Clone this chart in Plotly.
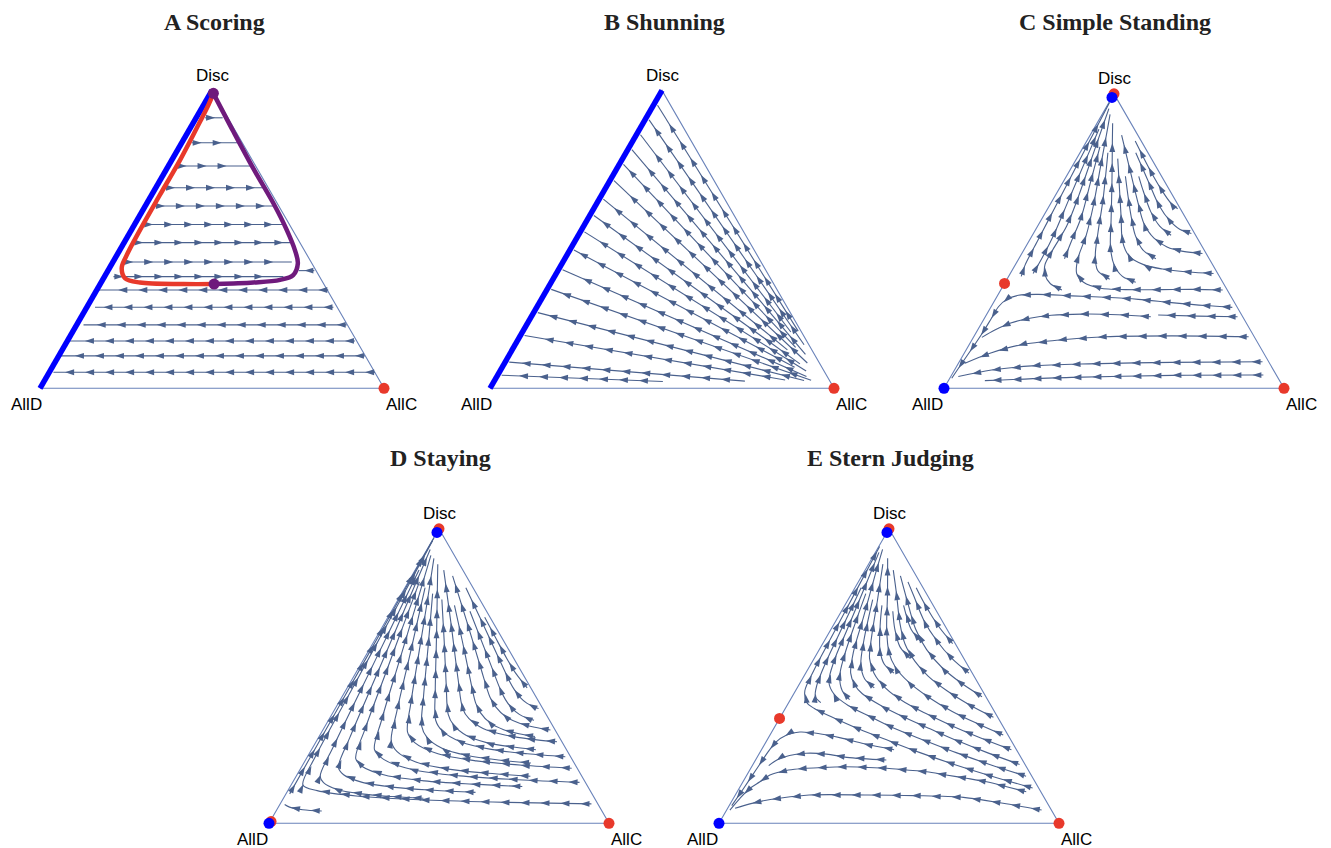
import numpy as np
import plotly.graph_objects as go

# ====================== DATA ======================
# All shares in percent. Vertices: AllD (bottom-left), AllC (bottom-right), Disc (top).

# ---- Panel A, Scoring: neutral trajectories at constant Disc share ----
a_row_disc = [90.8, 82.4, 74.6, 67.3, 61.2, 55.0, 48.9, 42.4, 37.5, 39.5,
              33.0, 27.2, 21.3, 15.9, 10.9, 5.4]
a_row_allc_from = [2.6, 2.9, 2.4, 2.7, 2.8, 2.5, 2.7, 3.0, 2.6, 60.0,
                   67.3, 71.7, 78.5, 83.6, 89.0, 94.7]
a_row_allc_to = [7.7, 16.5, 24.2, 31.3, 37.2, 43.2, 48.3, 52.0, 52.0, 55.5,
                 0.5, 2.4, 2.0, 0.3, 0.4, 1.2]
# highlighted orbit (two branches)
a_red_allc = [33.1, 24.2, 11.3, 6.3, 3.6, 2.9, 2.5, 2.4, 2.4, 1.9, 1.4, 0.9]
a_red_disc = [35.0, 35.0, 35.5, 36.9, 40.3, 44.2, 53.1, 64.9, 76.6, 87.2, 95.1, 99.0]
a_purple_allc = [0.9, 13.2, 25.1, 36.8, 45.2, 50.9, 54.0, 54.6, 51.6, 44.3, 38.6, 33.1]
a_purple_disc = [99.0, 86.1, 73.8, 62.1, 53.1, 46.4, 41.9, 38.0, 36.4, 35.5, 35.2, 35.0]

# ---- Panel B, Shunning: straight trajectories (start -> end) ----
b_start_allc = [80, 84, 78, 86, 82, 88, 80, 86, 89, 85, 90, 92, 90, 84.4, 72.9, 49.1]
b_start_disc = [19.2, 14.6, 18.9, 11.4, 13.7, 8.5, 12.9, 8.2, 5.8, 7.1, 4.0, 2.7, 2.6, 2.8, 2.4, 2.3]
b_end_allc = [1.2, 1.2, 1.2, 1.2, 1.2, 1.2, 1.2, 1.2, 1.2, 1.2, 1.2, 1.2, 1.2, 1.2, 1.2, 1.2]
b_end_disc = [95.0, 90.1, 85.1, 80.1, 75.2, 69.7, 63.5, 58.0, 52.5, 46.4, 39.8, 33.2,
              25.4, 17.7, 8.8, 4.4]

# ---- Panels C-E: trajectories as (Disc %, AllC share among AllC+AllD %) ----
c_paths = [
    [(4.5, 96), (4.4, 68), (3.7, 37), (2.6, 11)],
    [(9.0, 98), (8.8, 68.5), (8.3, 41.8), (7.6, 23.8), (6.2, 11.6), (4.0, 2.3)],
    [(17.5, 98), (17.8, 70.6), (17.5, 46.8), (16.4, 30.9), (14.7, 17.6), (11.9, 8.6), (8.5, 2.1)],
    [(24.3, 64.3), (25.0, 51.6), (25.2, 37.2), (24.8, 25.5), (23.8, 17.5), (22.1, 10.7),
     (19.8, 6.3), (17.3, 3.0)],
    [(24.3, 98), (24.5, 82.7), (24.9, 67.3)],
    [(27.5, 98), (28.1, 87.2), (29.1, 73.8), (30.2, 60.2), (30.9, 46.0), (31.4, 31.9),
     (31.9, 17.3), (31.6, 8.9), (30.2, 4.8), (27.7, 3.0), (23.8, 2.7), (19.2, 2.4),
     (14.1, 1.8), (8.5, 1.1), (3.4, 0.6)],
    [(38, 6), (42, 5), (50, 5), (62, 5), (75, 5), (88, 5), (97, 5)],
    [(39, 11), (44, 12), (52, 13), (64, 13), (78, 13), (88, 13)],
    [(33.4, 27), (35.5, 21), (38.5, 17), (42, 15), (47, 16), (55, 19), (65, 20), (78, 20),
     (90, 20), (95, 20)],
    [(44, 24), (50, 25), (58, 27), (70, 27), (82, 27)],
    [(33.4, 98), (33.6, 85), (33.5, 70), (33.5, 55), (34, 44), (36, 36), (39, 32), (44, 31),
     (52, 33), (62, 34), (75, 34), (88, 34), (93, 33.5)],
    [(37, 48), (40, 42), (45, 40), (53, 40), (64, 41), (80, 41)],
    [(36, 60), (38, 54), (42, 50), (48, 48), (57, 48), (70, 48), (84, 47), (90, 46)],
    [(39, 98), (39.5, 86), (40.5, 74), (42, 65), (45, 58), (50, 55), (58, 55), (70, 55), (78, 55)],
    [(44, 72), (47, 66), (52, 63), (60, 62), (72, 62)],
    [(45.8, 98), (46.5, 88), (48, 80), (51, 74), (56, 70), (64, 69), (76, 68), (86, 66)],
    [(52, 85), (55, 80), (60, 77), (68, 76), (72, 76)],
    [(52.6, 98), (54, 92), (57, 88), (62, 85), (70, 84), (80, 82)],
    [(61, 98), (63, 95), (67, 93), (74, 91), (84, 89)],
]

d_paths = [
    [(6.6, 98), (7.1, 71.4), (7.9, 45.8), (9.2, 23.9), (11.1, 9.7), (13, 4.0), (23, 3), (45, 3),
     (70, 3), (96, 3)],
    [(8.5, 45), (9.1, 34.6), (10, 24.7), (11.5, 16.1), (13.8, 10.6), (16, 8.4), (26, 8), (45, 8),
     (65, 8), (86, 8)],
    [(10.5, 62), (11.2, 48.3), (12.2, 35.1), (13.9, 23.8), (16.5, 16.4), (19, 13.5), (29, 13),
     (50, 13), (72, 13), (93, 13)],
    [(12.5, 78), (13.3, 61.2), (14.4, 45), (16.3, 31.2), (19.2, 22.2), (22, 18.6), (32, 18),
     (52, 18), (68, 18), (82, 18)],
    [(13.9, 98), (14.8, 77.3), (16.1, 57.3), (18.3, 40.3), (21.7, 29.2), (25, 24.7), (35, 24),
     (55, 24), (75, 24), (91, 23.5)],
    [(16, 82), (17, 67.4), (18.4, 53.4), (20.8, 41.4), (24.4, 33.6), (28, 30.5), (38, 30),
     (58, 30), (80, 29.5)],
    [(18.7, 98), (19.7, 80.6), (21.2, 63.9), (23.6, 49.6), (27.3, 40.3), (31, 36.6), (41, 36),
     (61, 36), (76, 36), (90, 35)],
    [(20.5, 84), (21.5, 72.2), (23, 60.9), (25.5, 51.2), (29.3, 44.9), (33, 42.4), (43, 42),
     (60, 42), (78, 41.5)],
    [(22.6, 98), (23.6, 84), (25.1, 70.5), (27.6, 59), (31.3, 51.5), (35, 48.5), (45, 48),
     (65, 48), (88, 47)],
    [(25, 88), (26, 78.5), (27.4, 69.3), (29.8, 61.5), (33.4, 56.4), (37, 54.3), (47, 54),
     (62, 54), (76, 53.5)],
    [(27.7, 98), (28.6, 87.6), (30, 77.7), (32.2, 69.1), (35.6, 63.6), (39, 61.4), (49, 61),
     (68, 61), (86, 60)],
    [(29.5, 90), (30.4, 83.8), (31.8, 77.9), (34.1, 72.8), (37.6, 69.5), (41, 68.2), (51, 68),
     (62, 68), (74, 67.5)],
    [(31.7, 98), (32.6, 91.8), (34, 85.9), (36.2, 80.8), (39.6, 77.5), (43, 76.2), (53, 76),
     (68, 76), (84, 75)],
    [(35, 93), (35.8, 90.2), (37, 87.5), (39, 85.2), (42, 83.7), (45, 83.1), (55, 83), (72, 82.5)],
    [(39, 98), (39.7, 95.8), (40.8, 93.6), (42.6, 91.8), (45.3, 90.6), (48, 90.1), (58, 90),
     (68, 90), (80, 89.5)],
    [(46, 98), (48, 97.2), (51, 96), (56, 95.3), (63, 95), (70, 94.8)],
    [(10, 1.2), (25, 1.2), (45, 1.2), (65, 1.2), (85, 1.2), (97, 1.2)],
    [(4.2, 14), (4.6, 8), (5.5, 3.5), (6.4, 1.5)],
]

e_paths = [
    [(4.5, 97), (6.8, 86), (8.8, 74), (9.4, 58), (9.6, 43), (9.6, 24), (8.1, 12), (6.6, 6.2),
     (5.1, 2.3)],
    [(10.7, 95.2), (12.4, 89.5), (14.1, 83.4), (15.3, 76.9), (16.4, 70.1), (17.5, 63.4),
     (18.1, 56.3), (18.7, 49.2), (19.0, 41.8), (19.2, 34.5), (19.0, 27.2), (18.7, 20.2),
     (18.1, 13.9), (16.4, 8.1), (14.1, 5.8), (11.9, 3.6), (8.5, 2.1), (4.5, 1.0)],
    [(21.5, 49), (22.4, 34), (23.5, 26), (23.8, 18), (23, 12), (21.5, 8), (19.6, 6)],
    [(25, 52), (27, 40), (29, 30), (30.5, 20), (31, 12), (30, 7), (27.5, 4), (24, 3), (18, 2.2),
     (12, 1.5), (6, 0.8)],
    [(12, 98), (16, 86), (20, 74), (24, 62), (28, 50), (32, 37), (36, 24), (39, 14), (41, 9),
     (45, 5), (52, 4), (64, 4), (78, 4), (94, 4)],
    [(16, 98), (20, 87), (24, 76), (28, 65), (32, 53), (36, 42), (40, 30), (44, 21), (48, 16),
     (55, 14), (66, 14), (80, 14), (92, 13)],
    [(20, 98), (24, 88), (28, 78), (32, 68), (36, 57), (40, 46), (44, 36), (47, 31), (51, 27),
     (58, 25), (70, 25), (84, 24), (93, 23)],
    [(25, 98), (29, 88), (33, 78), (37, 68), (41, 58), (46, 48), (51, 41), (56, 37), (64, 36),
     (76, 36), (88, 35)],
    [(30, 98), (34, 89), (38, 80), (43, 70), (48, 61), (53, 54), (58, 50), (66, 48), (78, 48),
     (90, 46)],
    [(36, 98), (40, 90), (45, 81), (50, 73), (55, 67), (61, 62), (68, 60), (78, 60), (86, 59)],
    [(43, 98), (48, 90), (53, 83), (59, 77), (66, 73), (74, 72), (84, 71)],
    [(51, 98), (56, 92), (62, 87), (69, 83), (77, 82), (82, 81)],
    [(61, 98), (67, 94), (75, 91), (80, 90)],
    [(41, 16), (43, 12), (47, 10), (55, 9), (68, 9), (80, 9)],
    [(42, 30), (45, 25), (50, 21), (57, 19.5), (68, 19), (78, 19)],
    [(46, 42), (49, 36), (54, 32), (62, 30.5), (76, 30)],
    [(51, 53), (54, 47), (59, 43.5), (68, 42), (74, 42)],
    [(56, 64), (60, 58), (66, 55), (72, 54)],
    [(62, 74), (66, 69), (74, 66.5)],
]

# ---- fixed points: panel, AllC %, Disc %, stability ----
fp_panel = ["A", "A", "A", "B",
            "C", "C", "C", "C", "C",
            "D", "D", "D", "D", "D",
            "E", "E", "E", "E", "E"]
fp_allc = [0.9, 33.1, 100, 100,
           0, 0, 0, 0, 100,
           0, 0, 0.3, 0, 100,
           0, 0, 0, 0, 100]
fp_disc = [99.0, 35.0, 0, 0,
           100, 98.8, 35.6, 0, 0,
           100, 98.8, 0.6, 0, 0,
           100, 98.8, 35.6, 0, 0]
fp_kind = ["neutral", "neutral", "unstable", "unstable",
           "unstable", "stable", "unstable", "stable", "unstable",
           "unstable", "stable", "unstable", "stable", "unstable",
           "unstable", "stable", "unstable", "stable", "unstable"]

titles = ["A Scoring", "B Shunning", "C Simple Standing", "D Staying", "E Stern Judging"]
vertex_names = ["AllD", "AllC", "Disc"]

# ====================== STYLE / LAYOUT ======================
W, H = 1331, 848
SQ = np.sqrt(3) / 2
STREAM = "#4a618d"
EDGE = "#6a83ba"
KIND_COLOR = {"unstable": "#e8392b", "stable": "#0000ff", "neutral": "#6f1a7c"}
LINE_BLUE = "#0000ff"

# panel key, AllD vertex (px), side (px), subplot box (px), title centre (px), label dx, first arrow
PANELS = [
    ("A", 40.0, 388.3, 344.0, (0, 40, 445, 432), (214, 22), -14, 10),
    ("B", 490.0, 388.3, 344.0, (445, 40, 895, 432), (664, 22), -14, 24),
    ("C", 944.0, 388.3, 340.0, (895, 40, 1331, 432), (1115, 22), -17, 11),
    ("D", 269.0, 823.3, 340.0, (215, 475, 665, 848), (440, 458), -17, 11),
    ("E", 719.0, 823.3, 340.0, (665, 475, 1120, 848), (890, 458), -17, 11),
]


def to_xy(allc, disc):
    a = np.asarray(allc, float) / 100.0
    d = np.asarray(disc, float) / 100.0
    return a + d / 2.0, d * SQ


def ratio_path_xy(path):
    h = np.array([p[0] for p in path], float) / 100.0
    r = np.array([p[1] for p in path], float) / 100.0
    allc = r * (1.0 - h)
    return allc + h / 2.0, h * SQ


def arrows_on(x, y, side, first=11.0, spacing=20.0, tail=5.0):
    px = np.asarray(x, float) * side
    py = np.asarray(y, float) * side
    dx, dy = np.diff(px), np.diff(py)
    seg = np.hypot(dx, dy)
    cum = np.concatenate([[0.0], np.cumsum(seg)])
    total = cum[-1]
    out = []
    positions = list(np.arange(first, total - tail, spacing))
    if not positions and total > 6:
        positions = [total * 0.6]
    for s in positions:
        i = int(np.searchsorted(cum, s, side="right") - 1)
        i = max(0, min(i, len(seg) - 1))
        while seg[i] == 0 and i < len(seg) - 1:
            i += 1
        t = (s - cum[i]) / seg[i] if seg[i] > 0 else 0
        out.append(((px[i] + t * dx[i]) / side, (py[i] + t * dy[i]) / side,
                    float(np.degrees(np.arctan2(dx[i], dy[i])))))
    return out


fig = go.Figure()
layout_axes = {}
annotations = []

panel_paths = {"A": [], "B": [], "C": [], "D": [], "E": []}
for d, a0, a1 in zip(a_row_disc, a_row_allc_from, a_row_allc_to):
    panel_paths["A"].append((to_xy([a0, a1], [d, d]), "linear"))
for sa, sd, ea, ed in zip(b_start_allc, b_start_disc, b_end_allc, b_end_disc):
    panel_paths["B"].append((to_xy([sa, ea], [sd, ed]), "linear"))
for key, paths in (("C", c_paths), ("D", d_paths), ("E", e_paths)):
    for p in paths:
        panel_paths[key].append((ratio_path_xy(p), "spline"))

for k, (key, X0, Y0, S, box, tpos, ldx, first) in enumerate(PANELS, start=1):
    bx0, by0, bx1, by1 = box
    xa = "xaxis" if k == 1 else f"xaxis{k}"
    ya = "yaxis" if k == 1 else f"yaxis{k}"
    xr = "x" if k == 1 else f"x{k}"
    yr = "y" if k == 1 else f"y{k}"
    layout_axes[xa] = dict(domain=[bx0 / W, bx1 / W], range=[(bx0 - X0) / S, (bx1 - X0) / S],
                           visible=False, fixedrange=True, anchor=yr)
    layout_axes[ya] = dict(domain=[1 - by1 / H, 1 - by0 / H], range=[(Y0 - by1) / S, (Y0 - by0) / S],
                           visible=False, fixedrange=True, anchor=xr)

    tx, ty = to_xy([0, 100, 0, 0], [0, 0, 100, 0])
    fig.add_trace(go.Scatter(x=tx, y=ty, mode="lines", xaxis=xr, yaxis=yr,
                             line=dict(color=EDGE, width=1.1), hoverinfo="skip"))

    for shape in ("linear", "spline"):
        xs, ys = [], []
        for (px_, py_), shp in panel_paths[key]:
            if shp != shape:
                continue
            xs += list(px_) + [None]
            ys += list(py_) + [None]
        if xs:
            fig.add_trace(go.Scatter(x=xs, y=ys, mode="lines", xaxis=xr, yaxis=yr,
                                     line=dict(color=STREAM, width=1.1, shape=shape, smoothing=0.9),
                                     hoverinfo="skip"))
    ax_, ay_, ang_ = [], [], []
    for (px_, py_), shp in panel_paths[key]:
        for (u, v, g) in arrows_on(px_, py_, S, first=first):
            ax_.append(u); ay_.append(v); ang_.append(g)
    fig.add_trace(go.Scatter(x=ax_, y=ay_, mode="markers", xaxis=xr, yaxis=yr,
                             marker=dict(symbol="arrow", size=9.5, angle=ang_, color=STREAM,
                                         line=dict(width=0)),
                             hoverinfo="skip"))

    if key in ("A", "B"):
        bx, by = to_xy([0, 0], [0, 100])
        fig.add_trace(go.Scatter(x=bx, y=by, mode="lines", xaxis=xr, yaxis=yr,
                                 line=dict(color=LINE_BLUE, width=5.5), hoverinfo="skip"))
    if key == "A":
        rx, ry = to_xy(a_red_allc, a_red_disc)
        fig.add_trace(go.Scatter(x=rx, y=ry, mode="lines", xaxis=xr, yaxis=yr,
                                 line=dict(color=KIND_COLOR["unstable"], width=4.5, shape="spline"),
                                 hoverinfo="skip"))
        qx, qy = to_xy(a_purple_allc, a_purple_disc)
        fig.add_trace(go.Scatter(x=qx, y=qy, mode="lines", xaxis=xr, yaxis=yr,
                                 line=dict(color=KIND_COLOR["neutral"], width=4.5, shape="spline"),
                                 hoverinfo="skip"))

    for kind in ("unstable", "neutral", "stable"):
        sel = [i for i in range(len(fp_panel)) if fp_panel[i] == key and fp_kind[i] == kind]
        if not sel:
            continue
        fx, fy = to_xy([fp_allc[i] for i in sel], [fp_disc[i] for i in sel])
        fig.add_trace(go.Scatter(x=fx, y=fy, mode="markers", xaxis=xr, yaxis=yr, cliponaxis=False,
                                 marker=dict(size=11, color=KIND_COLOR[kind], line=dict(width=0)),
                                 hoverinfo="skip"))

    lab_font = dict(family="Liberation Sans, Arial, sans-serif", size=17, color="black")
    vx, vy = to_xy([0, 100, 0], [0, 0, 100])
    annotations.append(dict(x=vx[0], y=vy[0], xref=xr, yref=yr, text=vertex_names[0], showarrow=False,
                            xshift=ldx, yshift=-16.5, font=lab_font))
    annotations.append(dict(x=vx[1], y=vy[1], xref=xr, yref=yr, text=vertex_names[1], showarrow=False,
                            xshift=17, yshift=-16.5, font=lab_font))
    annotations.append(dict(x=vx[2], y=vy[2], xref=xr, yref=yr, text=vertex_names[2], showarrow=False,
                            xshift=1, yshift=15, font=lab_font))
    annotations.append(dict(x=tpos[0] / W, y=1 - tpos[1] / H, xref="paper", yref="paper",
                            text=f"<b>{titles[k - 1]}</b>", showarrow=False,
                            xanchor="center", yanchor="middle",
                            font=dict(family="Liberation Serif, Times New Roman, serif", size=24,
                                      color="#222222")))

fig.update_layout(width=W, height=H, margin=dict(l=0, r=0, t=0, b=0),
                  paper_bgcolor="white", plot_bgcolor="white", showlegend=False,
                  annotations=annotations, **layout_axes)

fig.write_html("out.html", config={"displayModeBar": False},
               post_script="document.body.style.margin='0px';")
